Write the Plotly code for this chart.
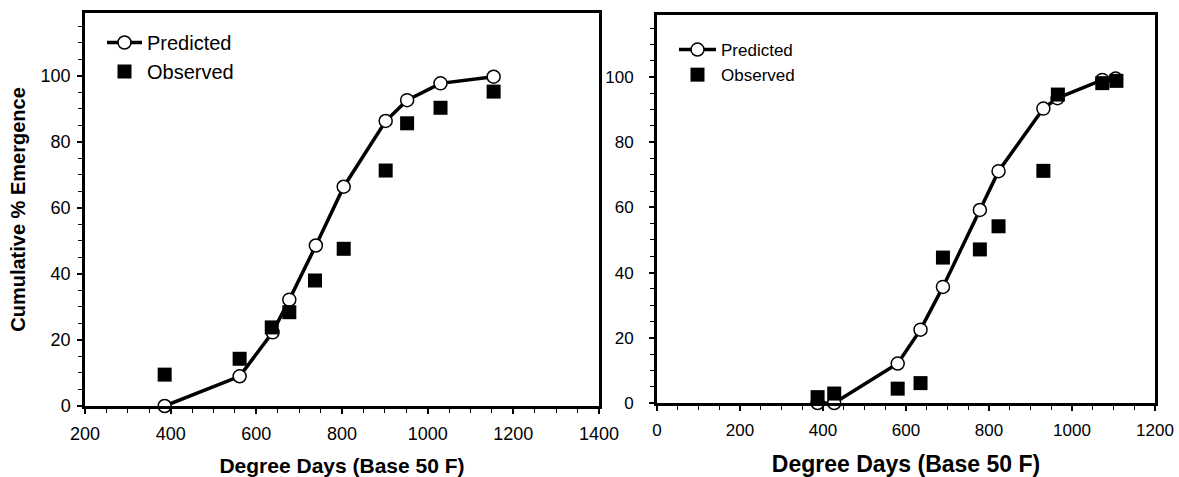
import plotly.graph_objects as go

# Left panel data
left_pred_x = [386, 561, 638, 677, 739, 804, 902, 952, 1030, 1154]
left_pred_y = [0, 9.0, 22.3, 32.2, 48.6, 66.4, 86.3, 92.6, 97.7, 99.7]
left_obs_x = [386, 561, 636, 677, 737, 804, 902, 952, 1030, 1154]
left_obs_y = [9.5, 14.3, 23.8, 28.4, 38.0, 47.6, 71.3, 85.6, 90.3, 95.2]

# Right panel data
right_pred_x = [387, 427, 580, 635, 689, 778, 823, 931, 965, 1073, 1105]
right_pred_y = [0, 0, 12.1, 22.5, 35.6, 59.2, 71.1, 90.3, 93.5, 99.1, 99.5]
right_obs_x = [387, 427, 580, 635, 689, 778, 823, 931, 966, 1073, 1107]
right_obs_y = [1.8, 2.9, 4.4, 6.1, 44.6, 47.1, 54.2, 71.2, 94.6, 98.1, 98.8]

x_title = "Degree Days (Base 50 F)"
y_title = "Cumulative % Emergence"
pred_name = "Predicted"
obs_name = "Observed"

FONT = "Liberation Sans, Arial, sans-serif"
W, H = 1179, 477


def px_x(sx):
    return sx / W


def px_y(sy):
    return 1 - sy / H


fig = go.Figure()

fig.add_trace(go.Scatter(
    x=left_pred_x, y=left_pred_y, mode="lines+markers", name=pred_name,
    line=dict(color="black", width=3.5),
    marker=dict(symbol="circle", size=13, color="white", line=dict(color="black", width=1.5)),
    xaxis="x", yaxis="y", cliponaxis=False, legend="legend"))
fig.add_trace(go.Scatter(
    x=left_obs_x, y=left_obs_y, mode="markers", name=obs_name,
    marker=dict(symbol="square", size=14, color="black", line=dict(width=0)),
    xaxis="x", yaxis="y", cliponaxis=False, legend="legend"))

fig.add_trace(go.Scatter(
    x=right_pred_x, y=right_pred_y, mode="lines+markers", name=pred_name,
    line=dict(color="black", width=3.5),
    marker=dict(symbol="circle", size=13, color="white", line=dict(color="black", width=1.5)),
    xaxis="x2", yaxis="y2", cliponaxis=False, legend="legend2"))
fig.add_trace(go.Scatter(
    x=right_obs_x, y=right_obs_y, mode="markers", name=obs_name,
    marker=dict(symbol="square", size=14, color="black", line=dict(width=0)),
    xaxis="x2", yaxis="y2", cliponaxis=False, legend="legend2"))


def xa(domain, rng, lw, fs, tfs, anchor, standoff):
    return dict(domain=domain, range=rng, anchor=anchor, automargin=False,
                showline=True, linecolor="black", linewidth=lw, mirror=True,
                showgrid=False, zeroline=False,
                ticks="outside", ticklen=5, tickwidth=1.5, tickcolor="black",
                dtick=200, tick0=0, ticklabelstandoff=5,
                minor=dict(dtick=50, ticks="outside", ticklen=4, tickwidth=1, tickcolor="black"),
                tickfont=dict(family=FONT, size=fs, color="black"),
                title=dict(text=x_title, font=dict(family=FONT, size=tfs, color="black", weight="bold"),
                           standoff=standoff))


def ya(domain, lw, fs, anchor, standoff, title=None):
    d = dict(domain=domain, range=[0, 119], anchor=anchor, automargin=False,
             showline=True, linecolor="black", linewidth=lw, mirror=True,
             showgrid=False, zeroline=False,
             ticks="outside", ticklen=5, tickwidth=1.5, tickcolor="black",
             dtick=20, tick0=0, ticklabelstandoff=standoff,
             minor=dict(dtick=5, ticks="outside", ticklen=4, tickwidth=1, tickcolor="black"),
             tickfont=dict(family=FONT, size=fs, color="black"))
    if title:
        d["title"] = dict(text=title, font=dict(family=FONT, size=20, color="black", weight="bold"), standoff=10)
    return d


fig.update_layout(
    width=W, height=H,
    margin=dict(l=0, r=0, t=0, b=0, autoexpand=False),
    paper_bgcolor="white", plot_bgcolor="white",
    font=dict(family=FONT, color="black"),
    xaxis=xa([px_x(85), px_x(599)], [200, 1400], 2.5, 18, 21, "y", 16),
    yaxis=ya([px_y(406), px_y(13)], 2.5, 18, "x", 3, y_title),
    xaxis2=xa([px_x(657), px_x(1155)], [0, 1200], 3, 17, 23, "y2", 20),
    yaxis2=ya([px_y(403), px_y(15)], 3, 17, "x2", 12),
    legend=dict(x=px_x(102), y=px_y(23), xanchor="left", yanchor="top",
                bgcolor="rgba(0,0,0,0)", font=dict(family=FONT, size=20, color="black"),
                tracegroupgap=0, itemwidth=35),
    legend2=dict(x=px_x(674), y=px_y(32), xanchor="left", yanchor="top",
                 bgcolor="rgba(0,0,0,0)", font=dict(family=FONT, size=17, color="black"),
                 tracegroupgap=0, itemwidth=37),
)

fig.write_html(
    "out.html",
    config={"displayModeBar": False},
    post_script="document.body.style.margin='0';document.body.style.overflow='hidden';",
)
